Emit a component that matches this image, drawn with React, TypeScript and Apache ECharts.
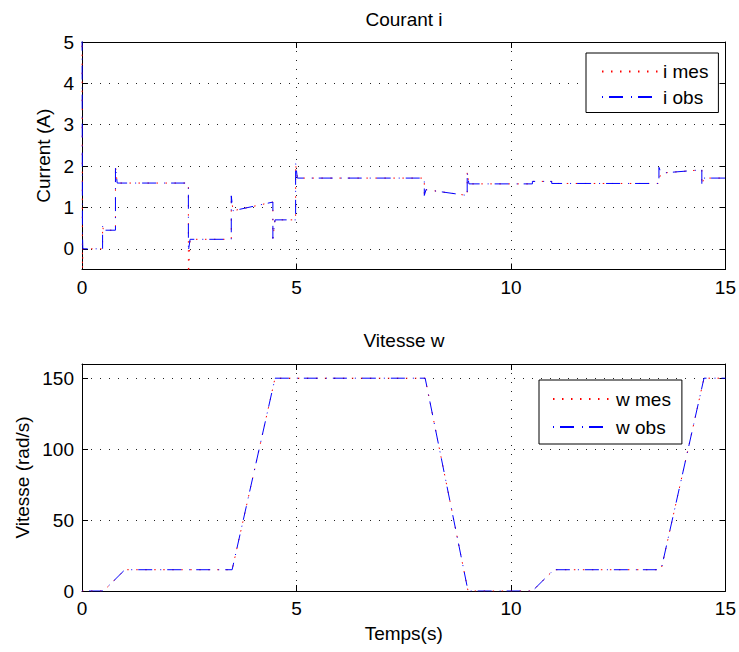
import React, { useEffect, useRef } from "react";
import * as echarts from "echarts";

// ---- Current i (A) ----
const tI = [0, 0.01, 0.02, 0.48, 0.48, 0.5, 0.78, 0.78, 0.82, 2.48, 2.48, 2.52, 3.48, 3.48, 3.52, 4.45, 4.45, 4.5, 4.98, 4.98, 5.02, 7.98, 7.98, 8.02, 8.98, 8.98, 9.02, 10.5, 10.5, 10.95, 10.95, 13.45, 13.45, 13.5, 14.45, 14.45, 14.5, 15];
const iObs = [6, 0.4, 0, 0, 0.55, 0.45, 0.45, 2.0, 1.59, 1.59, -0.05, 0.23, 0.23, 1.28, 0.92, 1.13, 0.25, 0.7, 0.7, 2.07, 1.71, 1.71, 1.29, 1.43, 1.29, 1.86, 1.57, 1.57, 1.63, 1.63, 1.58, 1.58, 1.97, 1.83, 1.91, 1.55, 1.71, 1.71];
const iMes = [6, -0.6, 0, 0, 0.55, 0.45, 0.45, 2.0, 1.59, 1.59, -0.7, 0.23, 0.23, 1.3, 0.92, 1.13, 0.25, 0.7, 0.7, 2.05, 1.71, 1.71, 1.29, 1.43, 1.29, 1.86, 1.57, 1.57, 1.63, 1.63, 1.58, 1.58, 1.67, 1.83, 1.91, 1.55, 1.71, 1.71];

// ---- Speed w (rad/s) ----
const tW = [0, 0.5, 1.0, 3.5, 4.5, 8.0, 9.0, 10.5, 11.0, 13.5, 14.5, 15];
const wMes = [0, 0, 15, 15, 150, 150, 0, 0, 15, 15, 150, 150];
const wObs = [0, 0, 15, 15, 150, 150, 0, 0, 15, 15, 150, 150];

const xTicks = [0, 5, 10, 15];
const iTicks = [0, 1, 2, 3, 4, 5];
const wTicks = [0, 50, 100, 150];

const FONT = "Liberation Sans, Arial, Helvetica, sans-serif";
const FS = 19;

const dotted = [1.5, 7.5];
const dashDot = [1, 6, 14, 8];
const gridDash = [1, 8];

function xAxisPair(grid: number, withName: boolean) {
  const common = {
    gridIndex: grid,
    type: "value",
    min: xTicks[0],
    max: xTicks[xTicks.length - 1],
    interval: 5,
    axisLine: { show: true, onZero: false, lineStyle: { color: "#000", width: 1 } },
    axisTick: { show: true, inside: true, length: 6, lineStyle: { color: "#000" } },
  };
  return [
    {
      ...common,
      position: "bottom",
      axisLabel: { show: true, color: "#000", fontSize: FS, fontFamily: FONT, margin: 8 },
      splitLine: { show: true, lineStyle: { color: "#222", type: gridDash, width: 1 } },
      ...(withName
        ? {
            name: "Temps(s)",
            nameLocation: "middle",
            nameGap: 33,
            nameMoveOverlap: false,
            nameTextStyle: { color: "#000", fontSize: FS, fontFamily: FONT },
          }
        : {}),
    },
    { ...common, position: "top", axisLabel: { show: false }, splitLine: { show: false } },
  ];
}

function yAxisPair(grid: number, min: number, max: number, interval: number, ticks: number[], name: string, gap: number) {
  const common = {
    gridIndex: grid,
    type: "value",
    min,
    max,
    interval,
    axisLine: { show: true, onZero: false, lineStyle: { color: "#000", width: 1 } },
    axisTick: { show: true, inside: true, length: 6, lineStyle: { color: "#000" }, customValues: ticks },
  };
  return [
    {
      ...common,
      position: "left",
      axisLabel: {
        show: true,
        color: "#000",
        fontSize: FS,
        fontFamily: FONT,
        margin: 8,
        customValues: ticks,
      },
      splitLine: { show: true, lineStyle: { color: "#222", type: gridDash, width: 1 } },
      name,
      nameLocation: "middle",
      nameRotate: 90,
      nameGap: gap,
      nameMoveOverlap: false,
      nameTextStyle: { color: "#000", fontSize: FS, fontFamily: FONT },
    },
    { ...common, position: "right", axisLabel: { show: false }, splitLine: { show: false } },
  ];
}

function lineSeries(name: string, xs: number[], ys: number[], axis: number, color: string, dash: number[], z: number) {
  return {
    name,
    type: "line",
    xAxisIndex: axis,
    yAxisIndex: axis,
    data: xs.map((t, k) => [t, ys[k]]),
    showSymbol: false,
    symbol: "none",
    clip: true,
    z,
    lineStyle: { color, width: 1, type: dash },
    itemStyle: { color },
    emphasis: { disabled: true },
  };
}

function legend(names: string[], left: number, top: number, itemWidth: number, padding: number[], gap: number) {
  return {
    data: names,
    orient: "vertical",
    left,
    top,
    itemWidth,
    itemHeight: 14,
    itemGap: gap,
    padding,
    backgroundColor: "#fff",
    borderColor: "#000",
    borderWidth: 1,
    selectedMode: false,
    itemStyle: { color: "rgba(0,0,0,0)", borderWidth: 0, opacity: 0 },
    textStyle: { color: "#000", fontSize: FS, fontFamily: FONT, lineHeight: 19 },
  };
}

export default function App() {
  const ref = useRef<HTMLDivElement>(null);
  useEffect(() => {
    if (!ref.current) return;
    const chart = echarts.init(ref.current, null, { renderer: "svg" });
    chart.setOption({
      animation: false,
      backgroundColor: "#fff",
      grid: [
        { left: 82, top: 42, width: 645, height: 227.5, containLabel: false },
        { left: 82, top: 364, width: 645, height: 227, containLabel: false },
      ],
      xAxis: [...xAxisPair(0, false), ...xAxisPair(1, true)],
      yAxis: [
        ...yAxisPair(0, -0.5, 5, 0.5, iTicks, "Current (A)", 29),
        ...yAxisPair(1, 0, 160, 50, wTicks, "Vitesse (rad/s)", 50),
      ],
      legend: [
        legend(["i mes", "i obs"], 586, 53, 56, [9, 10, 6, 15], 6.5),
        legend(["w mes", "w obs"], 539, 380, 58, [9.5, 11, 7.5, 13], 9),
      ],
      graphic: [
        {
          type: "text",
          x: 404,
          y: 19,
          style: { text: "Courant i", fontSize: FS, fontFamily: FONT, fill: "#000", align: "center", verticalAlign: "middle" },
        },
        {
          type: "text",
          x: 404,
          y: 340,
          style: { text: "Vitesse w", fontSize: FS, fontFamily: FONT, fill: "#000", align: "center", verticalAlign: "middle" },
        },
      ],
      series: [
        lineSeries("i mes", tI, iMes, 0, "#ff0000", dotted, 2),
        lineSeries("i obs", tI, iObs, 0, "#0000ff", dashDot, 3),
        lineSeries("w mes", tW, wMes, 2, "#ff0000", dotted, 2),
        lineSeries("w obs", tW, wObs, 2, "#0000ff", dashDot, 3),
      ],
    });
    return () => chart.dispose();
  }, []);
  return (
    <div
      ref={ref}
      style={{ position: "absolute", left: 0, top: 0, width: 739, height: 652, background: "#fff" }}
    />
  );
}
